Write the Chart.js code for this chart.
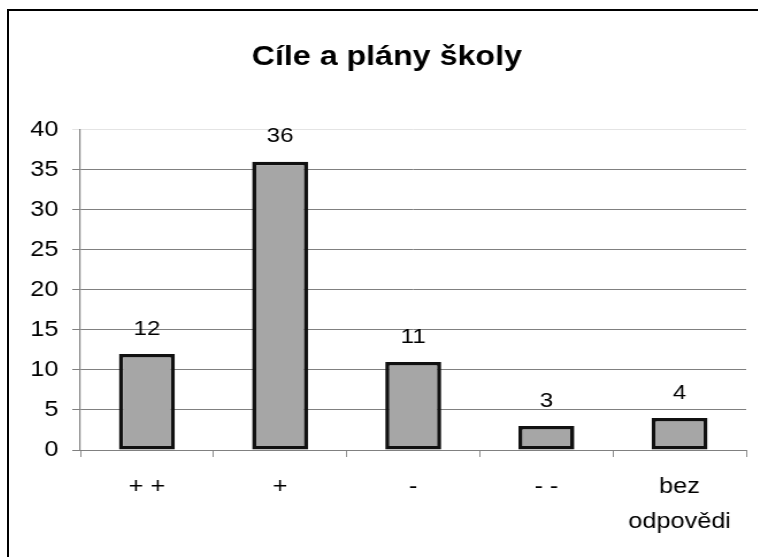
<!DOCTYPE html>
<html>
<head>
<meta charset="utf-8">
<script src="https://cdn.jsdelivr.net/npm/chart.js@4.4.1/dist/chart.umd.min.js"></script>
<style>
  html, body { margin: 0; padding: 0; background: #fff; overflow: hidden; }
  #frame {
    position: absolute; left: 7px; top: 9px;
    border-left: 2px solid #000; border-top: 2px solid #000;
    width: 760px; height: 560px; overflow: hidden;
  }
  /* graf je roztažený do šířky */
  #chart { display: block; transform: scaleX(1.15); transform-origin: 0 0; }
</style>
</head>
<body>
<div id="frame"><canvas id="chart" width="657" height="560"></canvas></div>
<script>
const categories = ["+ +", "+", "-", "- -", ["bez", "odpovědi"]];
const answers = [12, 36, 11, 3, 4];
const yTicks = [0, 5, 10, 15, 20, 25, 30, 35, 40];

const FONT = "'Liberation Sans', Arial, sans-serif";

// hodnoty nad sloupci
const valueLabels = {
  id: "valueLabels",
  afterDatasetsDraw(chart) {
    const ctx = chart.ctx;
    const meta = chart.getDatasetMeta(0);
    ctx.save();
    ctx.font = "21px " + FONT;
    ctx.fillStyle = "#000";
    ctx.textAlign = "center";
    ctx.textBaseline = "middle";
    meta.data.forEach((bar, i) => {
      ctx.fillText(String(answers[i]), bar.x, bar.y - 25);
    });
    ctx.restore();
  }
};

new Chart(document.getElementById("chart"), {
  type: "bar",
  data: {
    labels: categories,
    datasets: [{
      data: answers,
      backgroundColor: "#a6a6a6",
      borderColor: "#111",
      borderWidth: 3.6,
      borderSkipped: false,
      categoryPercentage: 1,
      barPercentage: 0.42,
    }]
  },
  options: {
    responsive: false,
    animation: false,
    layout: { padding: 0 },
    plugins: {
      legend: { display: false },
      tooltip: { enabled: false },
      title: {
        display: true,
        text: "Cíle a plány školy",
        color: "#000",
        font: { family: FONT, size: 28, weight: "bold", lineHeight: 1.2 },
        padding: { top: 29, bottom: 56 }
      }
    },
    scales: {
      x: {
        afterFit: s => { s.height = 121; },
        border: { color: "#808080", width: 1 },
        grid: { offset: true, drawOnChartArea: false, drawTicks: true, tickLength: 7, color: "#808080", lineWidth: 0.9 },
        ticks: {
          color: "#000", padding: 12, maxRotation: 0,
          font: { family: FONT, size: 22, lineHeight: 1.6 }
        }
      },
      y: {
        min: 0, max: 40,
        afterFit: s => { s.width = 62; },
        afterBuildTicks: s => { s.ticks = yTicks.map(v => ({ value: v })); },
        border: { color: "#808080", width: 1.2 },
        grid: {
          tickLength: 7,
          color: c => (c.tick && c.tick.value === 40 ? "#e4e4e4" : "#808080")
        },
        ticks: {
          color: "#000", padding: 12,
          font: { family: FONT, size: 22 }
        }
      },
      // prázdný okraj vpravo
      edge: {
        position: "right",
        afterFit: s => { s.width = 16; },
        grid: { display: false },
        border: { display: false },
        ticks: { display: false }
      }
    }
  },
  plugins: [valueLabels]
});
</script>
</body>
</html>
